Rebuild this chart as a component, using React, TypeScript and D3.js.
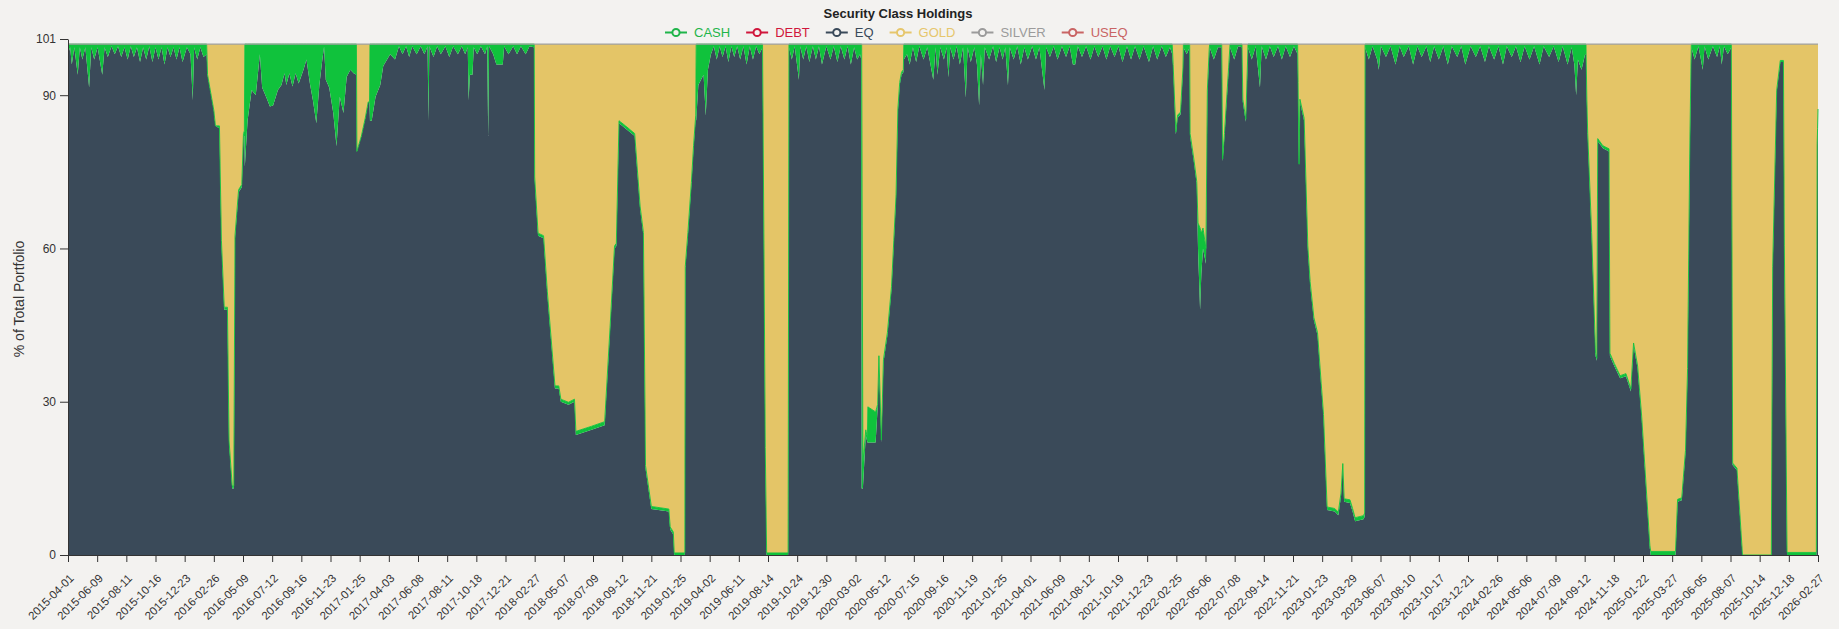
import React from 'react';
import * as d3 from 'd3';

// date, EQ, CASH, GOLD  (% of total portfolio)
type Row = [string, number, number, number];

const legendKeys = ['CASH', 'DEBT', 'EQ', 'GOLD', 'SILVER', 'USEQ'];
const legendColors: Record<string, string> = {
  CASH: '#1fb54a',
  DEBT: '#d0173c',
  EQ: '#3a4a5a',
  GOLD: '#e6c66c',
  SILVER: '#9b9b9b',
  USEQ: '#c96464',
};
const stackKeys = ['EQ', 'CASH', 'GOLD'];
const fillColors: Record<string, string> = { EQ: '#3a4a59', CASH: '#10c23c', GOLD: '#e4c567' };
const yTicks = [0, 30, 60, 90, 101];

const tickDates = [
  '2015-04-01', '2015-06-09', '2015-08-11', '2015-10-16', '2015-12-23', '2016-02-26', '2016-05-09',
  '2016-07-12', '2016-09-16', '2016-11-23', '2017-01-25', '2017-04-03', '2017-06-08', '2017-08-11',
  '2017-10-18', '2017-12-21', '2018-02-27', '2018-05-07', '2018-07-09', '2018-09-12', '2018-11-21',
  '2019-01-25', '2019-04-02', '2019-06-11', '2019-08-14', '2019-10-24', '2019-12-30', '2020-03-02',
  '2020-05-12', '2020-07-15', '2020-09-16', '2020-11-19', '2021-01-25', '2021-04-01', '2021-06-09',
  '2021-08-12', '2021-10-19', '2021-12-23', '2022-02-25', '2022-05-06', '2022-07-08', '2022-09-14',
  '2022-11-21', '2023-01-23', '2023-03-29', '2023-06-07', '2023-08-10', '2023-10-17', '2023-12-21',
  '2024-02-26', '2024-05-06', '2024-07-09', '2024-09-12', '2024-11-18', '2025-01-22', '2025-03-27',
  '2025-06-05', '2025-08-07', '2025-10-14', '2025-12-18', '2026-02-27',
];

const holdings2015: Row[] = [
  ['2015-04-01', 98, 2, 0], ['2015-04-06', 99.4, 0.6, 0], ['2015-04-10', 96, 4, 0], ['2015-04-16', 99.4, 0.6, 0],
  ['2015-04-24', 94, 6, 0], ['2015-04-29', 99.4, 0.6, 0], ['2015-05-05', 97, 3, 0], ['2015-05-12', 99.4, 0.6, 0],
  ['2015-05-21', 91.5, 8.5, 0], ['2015-05-26', 99.4, 0.6, 0], ['2015-06-02', 97, 3, 0], ['2015-06-10', 99.4, 0.6, 0],
  ['2015-06-20', 94, 6, 0], ['2015-06-25', 99.4, 0.6, 0], ['2015-07-02', 97.5, 2.5, 0], ['2015-07-10', 99.6, 0.4, 0],
  ['2015-07-17', 98, 2, 0], ['2015-07-24', 99.6, 0.4, 0], ['2015-07-31', 97.5, 2.5, 0], ['2015-08-07', 99.4, 0.6, 0],
  ['2015-08-14', 97, 3, 0], ['2015-08-21', 99.6, 0.4, 0], ['2015-08-28', 97.5, 2.5, 0], ['2015-09-04', 99.4, 0.6, 0],
  ['2015-09-11', 96.5, 3.5, 0], ['2015-09-18', 99.4, 0.6, 0], ['2015-09-25', 97, 3, 0], ['2015-10-02', 99.6, 0.4, 0],
  ['2015-10-09', 96.5, 3.5, 0], ['2015-10-16', 99.4, 0.6, 0], ['2015-10-23', 97, 3, 0], ['2015-10-30', 99.4, 0.6, 0],
  ['2015-11-06', 96, 4, 0], ['2015-11-13', 99.4, 0.6, 0], ['2015-11-20', 97.5, 2.5, 0], ['2015-11-27', 99.4, 0.6, 0],
  ['2015-12-04', 97, 3, 0], ['2015-12-11', 99.4, 0.6, 0], ['2015-12-18', 96.5, 3.5, 0], ['2015-12-28', 99.4, 0.6, 0],
  ['2016-01-05', 98, 2, 0], ['2016-01-10', 89, 11, 0], ['2016-01-13', 99.4, 0.6, 0], ['2016-01-20', 97, 3, 0],
  ['2016-01-27', 99.4, 0.6, 0], ['2016-02-03', 97.5, 2.5, 0], ['2016-02-10', 98, 2, 0],
];

const holdings2016: Row[] = [
  ['2016-02-12', 94, 0, 6], ['2016-02-26', 87, 0, 13], ['2016-03-01', 84, 0, 16], ['2016-03-11', 83.5, 0.5, 16],
  ['2016-03-16', 61, 0.5, 38.5], ['2016-03-23', 48, 0.5, 51.5], ['2016-03-31', 48, 0.5, 51.5],
  ['2016-04-04', 22, 0.5, 77.5], ['2016-04-12', 13, 0.5, 86.5], ['2016-04-16', 13, 0.5, 86.5],
  ['2016-04-19', 62, 0.5, 37.5], ['2016-04-28', 71, 0.5, 28.5], ['2016-05-06', 72, 0.5, 27.5],
  ['2016-05-10', 82, 0.5, 17.5], ['2016-05-12', 82, 1, 17], ['2016-05-13', 76, 24, 0],
  ['2016-05-19', 85, 15, 0], ['2016-05-28', 91, 9, 0], ['2016-06-06', 90, 10, 0], ['2016-06-15', 98, 2, 0],
  ['2016-06-20', 91.5, 8.5, 0], ['2016-06-30', 89.4, 10.6, 0], ['2016-07-07', 87.8, 12.2, 0],
  ['2016-07-14', 88, 12, 0], ['2016-07-25', 91, 9, 0], ['2016-08-02', 92, 8, 0], ['2016-08-09', 94.3, 5.7, 0],
  ['2016-08-13', 92, 8, 0], ['2016-08-20', 94.3, 5.7, 0], ['2016-08-27', 91.7, 8.3, 0], ['2016-09-03', 94.3, 5.7, 0],
  ['2016-09-10', 92.3, 7.7, 0], ['2016-09-21', 95, 5, 0], ['2016-09-28', 97, 3, 0], ['2016-10-06', 92.3, 7.7, 0],
  ['2016-10-13', 89, 11, 0], ['2016-10-21', 84.5, 15.5, 0], ['2016-10-28', 92, 8, 0], ['2016-11-04', 97, 3, 0],
  ['2016-11-08', 99.5, 0.5, 0], ['2016-11-12', 93, 7, 0], ['2016-11-20', 91.5, 8.5, 0], ['2016-11-29', 86.5, 13.5, 0],
  ['2016-12-06', 80, 20, 0], ['2016-12-13', 89.7, 10.3, 0], ['2016-12-21', 86.5, 13.5, 0], ['2016-12-28', 93.6, 6.4, 0],
  ['2017-01-05', 95, 5, 0], ['2017-01-12', 94.3, 5.7, 0], ['2017-01-18', 94, 6, 0],
  ['2017-01-19', 79, 0, 21], ['2017-01-29', 82, 0, 18], ['2017-02-07', 85.5, 0, 14.5], ['2017-02-14', 88.7, 0, 11.3],
  ['2017-02-17', 88.5, 0, 11.5], ['2017-02-18', 85, 15, 0], ['2017-02-22', 85, 15, 0], ['2017-03-03', 89.7, 10.3, 0],
  ['2017-03-14', 92, 8, 0], ['2017-03-21', 95.7, 4.3, 0], ['2017-04-06', 98, 2, 0],
];

const holdings2017: Row[] = [
  ['2017-04-17', 97, 3, 0], ['2017-04-26', 99.6, 0.4, 0], ['2017-05-04', 98, 2, 0], ['2017-05-12', 99.6, 0.4, 0],
  ['2017-05-19', 97.5, 2.5, 0], ['2017-05-26', 99.6, 0.4, 0], ['2017-06-05', 98, 2, 0], ['2017-06-14', 99.6, 0.4, 0],
  ['2017-06-22', 98, 2, 0], ['2017-06-29', 99.6, 0.4, 0], ['2017-07-01', 85, 15, 0], ['2017-07-03', 99.6, 0.4, 0],
  ['2017-07-12', 97.5, 2.5, 0], ['2017-07-20', 99.6, 0.4, 0], ['2017-07-28', 98, 2, 0], ['2017-08-07', 99.6, 0.4, 0],
  ['2017-08-16', 97.5, 2.5, 0], ['2017-08-25', 99.6, 0.4, 0], ['2017-09-05', 98, 2, 0], ['2017-09-14', 99.6, 0.4, 0],
  ['2017-09-22', 98, 2, 0], ['2017-09-28', 99.4, 0.6, 0], ['2017-09-30', 89, 11, 0], ['2017-10-03', 94, 6, 0],
  ['2017-10-09', 94, 6, 0], ['2017-10-12', 99.4, 0.6, 0], ['2017-10-20', 98, 2, 0], ['2017-10-28', 99.6, 0.4, 0],
  ['2017-11-06', 98, 2, 0], ['2017-11-11', 99.6, 0.4, 0], ['2017-11-13', 82, 18, 0], ['2017-11-15', 99.6, 0.4, 0],
  ['2017-11-24', 98, 2, 0], ['2017-12-01', 96, 4, 0], ['2017-12-15', 96, 4, 0], ['2017-12-18', 99.6, 0.4, 0],
  ['2017-12-28', 98, 2, 0], ['2018-01-08', 99.6, 0.4, 0], ['2018-01-17', 98, 2, 0], ['2018-01-26', 99.6, 0.4, 0],
  ['2018-02-06', 98, 2, 0], ['2018-02-15', 99.6, 0.4, 0], ['2018-02-25', 99.4, 0.6, 0],
];

const holdings2018: Row[] = [
  ['2018-02-26', 99.4, 0.6, 0], ['2018-02-27', 73.5, 0.5, 26], ['2018-03-07', 62.5, 0.5, 37], ['2018-03-20', 62, 0.5, 37.5],
  ['2018-03-29', 51, 0.5, 48.5], ['2018-04-16', 32.6, 0.5, 66.9], ['2018-04-25', 32.6, 0.5, 66.9],
  ['2018-04-30', 30, 0.5, 69.5], ['2018-05-17', 29.4, 0.5, 70.1], ['2018-05-30', 30, 0.5, 69.5],
  ['2018-06-02', 23.5, 0.7, 75.8], ['2018-07-06', 24.5, 0.7, 74.8], ['2018-08-04', 25.4, 0.7, 73.9],
  ['2018-08-16', 44, 0.5, 55.5], ['2018-08-26', 60, 0.5, 39.5], ['2018-08-30', 60.5, 0.5, 39],
  ['2018-09-05', 84.5, 0.5, 15], ['2018-09-20', 83.5, 0.5, 16], ['2018-10-12', 82, 0.5, 17.5],
  ['2018-10-25', 67.8, 0.5, 31.7], ['2018-11-02', 62.6, 0.5, 36.9], ['2018-11-07', 17, 0.5, 82.5],
  ['2018-11-21', 9, 0.5, 90.5], ['2018-12-30', 8.5, 0.5, 91], ['2019-01-02', 5, 0.5, 94.5],
  ['2019-01-09', 4, 0.5, 95.5], ['2019-01-11', 0, 0.4, 99.6], ['2019-02-04', 0, 0.4, 99.6],
  ['2019-02-05', 56, 0.5, 43.5], ['2019-02-11', 62.6, 0.5, 36.9], ['2019-02-19', 72.4, 0.5, 27.1],
  ['2019-02-24', 79.6, 0.5, 19.9], ['2019-03-01', 85.6, 0.5, 13.9], ['2019-03-02', 85, 15, 0],
  ['2019-03-07', 92, 8, 0], ['2019-03-19', 94, 6, 0], ['2019-03-24', 86, 14, 0], ['2019-03-29', 95, 5, 0],
  ['2019-04-05', 98, 2, 0],
];

const holdings2019: Row[] = [
  ['2019-04-12', 99.6, 0.4, 0], ['2019-04-19', 97, 3, 0], ['2019-04-26', 99.6, 0.4, 0], ['2019-05-03', 97.5, 2.5, 0],
  ['2019-05-10', 99.6, 0.4, 0], ['2019-05-17', 96.5, 3.5, 0], ['2019-05-24', 99.6, 0.4, 0], ['2019-05-31', 97.5, 2.5, 0],
  ['2019-06-07', 99.6, 0.4, 0], ['2019-06-14', 97, 3, 0], ['2019-06-21', 99.6, 0.4, 0], ['2019-06-28', 96, 4, 0],
  ['2019-07-05', 99.6, 0.4, 0], ['2019-07-12', 97, 3, 0], ['2019-07-19', 99.6, 0.4, 0], ['2019-07-26', 98, 2, 0],
  ['2019-08-02', 99.4, 0.6, 0], ['2019-08-05', 60, 1.5, 38.5], ['2019-08-08', 20, 1, 79], ['2019-08-11', 0, 0.4, 99.6],
  ['2019-10-02', 0, 0.4, 99.6], ['2019-10-04', 99.4, 0.6, 0], ['2019-10-11', 97, 3, 0], ['2019-10-18', 99.6, 0.4, 0],
  ['2019-10-28', 93, 7, 0], ['2019-10-31', 99.6, 0.4, 0], ['2019-11-07', 97, 3, 0], ['2019-11-14', 99.6, 0.4, 0],
  ['2019-11-21', 96.5, 3.5, 0], ['2019-11-29', 99.6, 0.4, 0], ['2019-12-06', 97, 3, 0], ['2019-12-13', 99.6, 0.4, 0],
  ['2019-12-20', 96, 4, 0], ['2019-12-30', 99.6, 0.4, 0], ['2020-01-08', 97, 3, 0], ['2020-01-15', 99.6, 0.4, 0],
  ['2020-01-23', 96.5, 3.5, 0], ['2020-01-30', 99.6, 0.4, 0], ['2020-02-07', 97, 3, 0], ['2020-02-14', 99.6, 0.4, 0],
  ['2020-02-21', 96, 4, 0], ['2020-02-28', 99.4, 0.6, 0], ['2020-03-06', 97, 3, 0], ['2020-03-13', 98, 2, 0],
];

const holdings2020: Row[] = [
  ['2020-03-16', 97, 3, 0], ['2020-03-17', 13, 87, 0], ['2020-03-20', 13, 5, 82], ['2020-03-27', 23.5, 1, 75.5],
  ['2020-03-31', 22, 1, 77], ['2020-04-01', 22, 7, 71], ['2020-04-20', 22, 6, 72], ['2020-04-25', 29, 0.5, 70.5],
  ['2020-04-28', 38.5, 0.5, 61], ['2020-05-04', 22, 0.5, 77.5], ['2020-05-09', 37.7, 0.5, 61.8],
  ['2020-05-18', 43, 0.5, 56.5], ['2020-05-27', 52, 0.5, 47.5], ['2020-06-01', 61, 0.5, 38.5],
  ['2020-06-06', 70, 0.5, 29.5], ['2020-06-10', 86.8, 0.5, 12.7], ['2020-06-14', 92, 0.5, 7.5],
  ['2020-06-18', 94, 0.5, 5.5], ['2020-06-22', 94.5, 0.5, 5], ['2020-06-23', 97, 3, 0],
  ['2020-06-30', 98, 2, 0], ['2020-07-06', 96, 4, 0], ['2020-07-13', 99.4, 0.6, 0], ['2020-07-20', 96.5, 3.5, 0],
  ['2020-07-27', 99.6, 0.4, 0], ['2020-08-05', 97, 3, 0], ['2020-08-13', 99.4, 0.6, 0], ['2020-08-20', 96, 4, 0],
  ['2020-08-26', 93, 7, 0], ['2020-08-31', 99.4, 0.6, 0], ['2020-09-04', 94, 6, 0], ['2020-09-10', 99.4, 0.6, 0],
  ['2020-09-18', 97, 3, 0], ['2020-09-24', 99.4, 0.6, 0], ['2020-09-28', 93.5, 6.5, 0], ['2020-10-02', 99.4, 0.6, 0],
  ['2020-10-09', 97, 3, 0], ['2020-10-16', 99.6, 0.4, 0], ['2020-10-23', 96, 4, 0], ['2020-10-30', 99.4, 0.6, 0],
  ['2020-11-05', 89.5, 10.5, 0], ['2020-11-09', 99.4, 0.6, 0], ['2020-11-16', 96.5, 3.5, 0], ['2020-11-24', 99.4, 0.6, 0],
  ['2020-11-30', 96, 4, 0], ['2020-12-05', 88, 12, 0], ['2020-12-09', 98, 2, 0], ['2020-12-14', 92, 8, 0],
  ['2020-12-18', 99.4, 0.6, 0], ['2020-12-28', 97, 3, 0],
];

const holdings2021: Row[] = [
  ['2021-01-06', 99.6, 0.4, 0], ['2021-01-13', 96.5, 3.5, 0], ['2021-01-21', 99.4, 0.6, 0], ['2021-01-28', 97, 3, 0],
  ['2021-02-03', 99.4, 0.6, 0], ['2021-02-09', 92, 8, 0], ['2021-02-13', 99.4, 0.6, 0], ['2021-02-22', 97, 3, 0],
  ['2021-03-02', 99.6, 0.4, 0], ['2021-03-10', 96, 4, 0], ['2021-03-18', 99.4, 0.6, 0], ['2021-03-26', 97, 3, 0],
  ['2021-04-05', 99.6, 0.4, 0], ['2021-04-14', 97, 3, 0], ['2021-04-22', 99.4, 0.6, 0], ['2021-05-04', 91, 9, 0],
  ['2021-05-08', 99.4, 0.6, 0], ['2021-05-17', 97.5, 2.5, 0], ['2021-05-26', 99.6, 0.4, 0], ['2021-06-04', 97, 3, 0],
  ['2021-06-14', 99.6, 0.4, 0], ['2021-06-23', 97.5, 2.5, 0], ['2021-07-01', 99.6, 0.4, 0], ['2021-07-08', 96, 4, 0],
  ['2021-07-13', 96, 4, 0], ['2021-07-19', 99.6, 0.4, 0], ['2021-07-28', 97.5, 2.5, 0], ['2021-08-06', 99.6, 0.4, 0],
  ['2021-08-16', 97, 3, 0], ['2021-08-25', 99.6, 0.4, 0], ['2021-09-03', 97.5, 2.5, 0], ['2021-09-13', 99.6, 0.4, 0],
  ['2021-09-22', 97, 3, 0], ['2021-10-01', 99.6, 0.4, 0], ['2021-10-11', 97.5, 2.5, 0], ['2021-10-20', 99.6, 0.4, 0],
  ['2021-10-29', 96.5, 3.5, 0], ['2021-11-08', 99.6, 0.4, 0], ['2021-11-17', 97, 3, 0], ['2021-11-26', 99.6, 0.4, 0],
  ['2021-12-06', 97, 3, 0], ['2021-12-15', 99.6, 0.4, 0], ['2021-12-27', 96.5, 3.5, 0], ['2022-01-05', 99.6, 0.4, 0],
  ['2022-01-14', 97, 3, 0], ['2022-01-24', 99.6, 0.4, 0], ['2022-02-02', 97.5, 2.5, 0], ['2022-02-11', 99.4, 0.6, 0],
  ['2022-02-16', 98, 2, 0],
];

const holdings2022: Row[] = [
  ['2022-02-18', 95.5, 0.5, 4], ['2022-02-24', 82.3, 0.5, 17.2], ['2022-02-28', 85.6, 0.5, 13.9],
  ['2022-03-07', 86.2, 0.5, 13.3], ['2022-03-13', 95, 0.5, 4.5], ['2022-03-14', 99.4, 0.6, 0], ['2022-03-22', 98, 2, 0],
  ['2022-03-29', 99.4, 0.6, 0], ['2022-03-30', 82, 0.5, 17.5], ['2022-04-08', 77, 0.5, 22.5], ['2022-04-15', 72.6, 0.5, 26.9],
  ['2022-04-18', 60, 5, 35], ['2022-04-23', 48, 16, 36], ['2022-04-26', 55, 8, 37], ['2022-04-30', 60, 4, 36],
  ['2022-05-07', 57, 3, 40], ['2022-05-10', 90, 1, 9], ['2022-05-14', 98, 1, 1], ['2022-05-15', 99.4, 0.6, 0],
  ['2022-05-24', 97, 3, 0], ['2022-06-02', 99.4, 0.6, 0], ['2022-06-10', 99.4, 0.6, 0], ['2022-06-12', 77, 0.5, 22.5],
  ['2022-06-16', 82, 0.5, 17.5], ['2022-06-25', 95, 0.5, 4.5], ['2022-06-28', 99.4, 0.6, 0], ['2022-07-07', 97, 3, 0],
  ['2022-07-16', 99.6, 0.4, 0], ['2022-07-25', 99.4, 0.6, 0], ['2022-07-27', 88.7, 0.5, 10.8], ['2022-08-03', 84.8, 0.5, 14.7],
  ['2022-08-07', 96, 0.5, 3.5], ['2022-08-08', 99.4, 0.6, 0], ['2022-08-17', 97, 3, 0], ['2022-08-26', 99.6, 0.4, 0],
  ['2022-09-05', 91.5, 8.5, 0], ['2022-09-09', 99.6, 0.4, 0], ['2022-09-19', 97, 3, 0], ['2022-09-28', 99.6, 0.4, 0],
  ['2022-10-07', 97.5, 2.5, 0], ['2022-10-17', 99.6, 0.4, 0], ['2022-10-26', 97, 3, 0], ['2022-11-04', 99.6, 0.4, 0],
  ['2022-11-14', 97.5, 2.5, 0], ['2022-11-23', 99.6, 0.4, 0], ['2022-12-01', 98, 2, 0],
  ['2022-12-02', 92, 0.5, 7.5], ['2022-12-04', 76, 0.5, 23.5], ['2022-12-06', 88.7, 0.5, 10.8],
  ['2022-12-15', 85, 0.5, 14.5], ['2022-12-23', 60, 0.5, 39.5], ['2022-12-28', 53, 0.5, 46.5],
  ['2023-01-05', 46, 0.5, 53.5], ['2023-01-13', 43, 0.5, 56.5], ['2023-01-21', 33, 0.5, 66.5],
  ['2023-01-26', 27, 0.5, 72.5], ['2023-02-03', 8.8, 0.6, 90.6], ['2023-02-20', 8.5, 0.6, 90.9],
  ['2023-02-28', 7.8, 0.6, 91.6], ['2023-03-06', 11.5, 0.6, 87.9], ['2023-03-10', 17.4, 0.5, 82.1],
  ['2023-03-13', 10.4, 0.6, 89], ['2023-03-26', 10.2, 0.6, 89.2], ['2023-04-01', 8.5, 0.6, 90.9],
  ['2023-04-07', 6.6, 0.7, 92.7], ['2023-04-27', 7, 0.7, 92.3], ['2023-04-30', 7.5, 0.7, 91.8], ['2023-05-01', 99.4, 0.6, 0],
];

const holdings2023: Row[] = [
  ['2023-05-10', 97, 3, 0], ['2023-05-19', 99.6, 0.4, 0], ['2023-05-30', 97, 3, 0], ['2023-06-03', 95, 5, 0],
  ['2023-06-08', 99.6, 0.4, 0], ['2023-06-19', 97.5, 2.5, 0], ['2023-06-29', 99.6, 0.4, 0], ['2023-07-10', 96, 4, 0],
  ['2023-07-19', 99.6, 0.4, 0], ['2023-07-28', 97.5, 2.5, 0], ['2023-08-08', 99.6, 0.4, 0], ['2023-08-18', 96, 4, 0],
  ['2023-08-28', 99.6, 0.4, 0], ['2023-09-07', 97.5, 2.5, 0], ['2023-09-18', 99.6, 0.4, 0], ['2023-09-27', 96.5, 3.5, 0],
  ['2023-10-06', 99.6, 0.4, 0], ['2023-10-17', 97, 3, 0], ['2023-10-27', 99.6, 0.4, 0], ['2023-11-06', 96, 4, 0],
  ['2023-11-15', 99.6, 0.4, 0], ['2023-11-27', 97.5, 2.5, 0], ['2023-12-06', 99.6, 0.4, 0], ['2023-12-15', 96, 4, 0],
  ['2023-12-27', 99.6, 0.4, 0], ['2024-01-08', 97.5, 2.5, 0], ['2024-01-18', 99.6, 0.4, 0], ['2024-01-29', 96.5, 3.5, 0],
  ['2024-02-07', 99.6, 0.4, 0], ['2024-02-19', 97, 3, 0], ['2024-02-29', 99.6, 0.4, 0], ['2024-03-11', 96, 4, 0],
  ['2024-03-20', 99.6, 0.4, 0], ['2024-04-01', 97.5, 2.5, 0], ['2024-04-11', 99.6, 0.4, 0], ['2024-04-22', 96.5, 3.5, 0],
  ['2024-05-02', 99.6, 0.4, 0], ['2024-05-13', 97, 3, 0], ['2024-05-23', 99.6, 0.4, 0], ['2024-06-04', 96, 4, 0],
  ['2024-06-13', 99.6, 0.4, 0], ['2024-06-25', 97.5, 2.5, 0], ['2024-07-05', 99.6, 0.4, 0], ['2024-07-16', 96.5, 3.5, 0],
  ['2024-07-25', 99.6, 0.4, 0], ['2024-08-05', 96, 4, 0], ['2024-08-14', 99.4, 0.6, 0], ['2024-08-20', 96, 4, 0],
  ['2024-08-24', 90, 10, 0], ['2024-08-28', 97, 3, 0], ['2024-09-05', 95, 5, 0], ['2024-09-13', 98, 2, 0],
];

const holdings2024: Row[] = [
  ['2024-09-15', 98, 2, 0], ['2024-09-17', 88.7, 0.5, 10.8], ['2024-09-19', 82, 0.5, 17.5],
  ['2024-09-28', 62.6, 0.5, 36.9], ['2024-10-07', 39, 0.5, 60.5], ['2024-10-10', 38, 0.5, 61.5],
  ['2024-10-12', 81, 0.5, 18.5], ['2024-10-24', 79.6, 0.5, 19.9], ['2024-11-07', 79, 0.5, 20.5],
  ['2024-11-09', 39, 0.5, 60.5], ['2024-11-19', 37, 0.5, 62.5], ['2024-12-02', 34.6, 0.5, 64.9],
  ['2024-12-15', 35, 0.5, 64.5], ['2024-12-26', 32, 0.5, 67.5], ['2025-01-01', 41, 0.5, 58.5],
  ['2025-01-10', 36.5, 0.5, 63], ['2025-01-19', 26.7, 0.5, 72.8], ['2025-01-26', 17, 0.5, 82.5],
  ['2025-02-06', 1.3, 0.6, 98.1], ['2025-02-08', 0, 0.7, 99.3], ['2025-04-04', 0, 0.7, 99.3], ['2025-04-09', 10.4, 0.5, 89.1],
  ['2025-04-19', 10.7, 0.5, 88.8], ['2025-04-28', 20, 0.5, 79.5], ['2025-05-03', 36, 0.5, 63.5],
  ['2025-05-08', 77, 0.5, 22.5], ['2025-05-11', 95, 0.5, 4.5], ['2025-05-12', 99.4, 0.6, 0],
  ['2025-05-20', 97, 3, 0], ['2025-05-29', 99.6, 0.4, 0], ['2025-06-04', 97, 3, 0], ['2025-06-08', 95, 5, 0],
  ['2025-06-12', 99.6, 0.4, 0], ['2025-06-20', 97, 3, 0], ['2025-06-30', 99.6, 0.4, 0], ['2025-07-09', 97.5, 2.5, 0],
  ['2025-07-15', 99.6, 0.4, 0], ['2025-07-19', 96, 4, 0], ['2025-07-24', 99.6, 0.4, 0], ['2025-08-01', 98, 2, 0],
  ['2025-08-09', 99.4, 0.6, 0], ['2025-08-12', 17.6, 0.4, 82], ['2025-08-22', 16.6, 0.4, 83], ['2025-09-04', 0, 0, 100],
  ['2025-11-09', 0, 0, 100], ['2025-11-12', 56, 0.4, 43.6], ['2025-11-21', 90.7, 0.3, 9], ['2025-11-29', 96.5, 0.3, 3.2],
  ['2025-12-06', 96.5, 0.3, 3.2], ['2025-12-08', 60, 0.5, 39.5], ['2025-12-14', 0, 0.5, 99.5],
  ['2026-02-23', 0, 0.5, 99.5], ['2026-02-25', 80, 0.5, 19.5], ['2026-02-26', 83, 0.5, 16.5],
  ['2026-02-27', 86.8, 0.5, 12.7],
];

const holdings: Row[] = [
  ...holdings2015, ...holdings2016, ...holdings2017, ...holdings2018, ...holdings2019,
  ...holdings2020, ...holdings2021, ...holdings2022, ...holdings2023, ...holdings2024,
];

const W = 1839;
const H = 629;
const margin = { top: 39, right: 21, bottom: 74, left: 68 };
const FONT = '"Liberation Sans", Arial, Helvetica, sans-serif';
const BG = '#f3f2f0';

function drawChart(el: SVGSVGElement) {
  const svg = d3.select(el);
  svg.selectAll('*').remove();
  svg.append('rect').attr('width', W).attr('height', H).attr('fill', BG);

  const parse = d3.timeParse('%Y-%m-%d');
  const tickObjs = tickDates.map((d) => parse(d) as Date);
  const step = (W - margin.left - margin.right) / (tickDates.length - 1);
  // trading-day axis: tick dates are evenly spaced
  const x = d3
    .scaleTime()
    .domain(tickObjs)
    .range(tickObjs.map((_, i) => margin.left + i * step));
  const y = d3.scaleLinear([0, 101], [H - margin.bottom, margin.top]);

  const rows = holdings.map(([date, eq, cash, gold]) => ({
    date: parse(date) as Date,
    EQ: eq,
    CASH: cash,
    GOLD: gold,
  }));
  const layers = d3.stack<any>().keys(stackKeys)(rows);

  const area = d3
    .area<any>()
    .x((d) => x(d.data.date))
    .y0((d) => y(d[0]))
    .y1((d) => y(d[1]));

  const plot = svg.append('g');
  plot
    .selectAll('path.layer')
    .data(layers)
    .enter()
    .append('path')
    .attr('class', 'layer')
    .attr('d', area)
    .attr('fill', (l) => fillColors[l.key]);

  const edge = d3
    .line<any>()
    .x((d) => x(d.data.date))
    .y((d) => y(d[1]));
  // green edge where cash meets gold
  plot
    .append('path')
    .attr('d', edge(layers[1]))
    .attr('fill', 'none')
    .attr('stroke', fillColors.CASH)
    .attr('stroke-width', 0.9);
  // total line on top
  plot
    .append('path')
    .attr('d', edge(layers[2]))
    .attr('fill', 'none')
    .attr('stroke', '#a0a0a0')
    .attr('stroke-width', 1.2);

  // axes
  const xAxis = svg
    .append('g')
    .attr('transform', `translate(0,${H - margin.bottom})`)
    .call(
      d3
        .axisBottom(x)
        .tickValues(tickObjs)
        .tickSize(7)
        .tickSizeOuter(0)
        .tickFormat(d3.timeFormat('%Y-%m-%d') as any),
    );
  xAxis
    .selectAll('text')
    .attr('x', 0)
    .attr('y', 0)
    .attr('dy', 0)
    .attr('transform', 'translate(6,24) rotate(-45)')
    .style('text-anchor', 'end')
    .style('font-size', '11.5px')
    .style('font-family', FONT)
    .attr('fill', '#333');

  const yAxis = svg
    .append('g')
    .attr('transform', `translate(${margin.left},0)`)
    .call(d3.axisLeft(y).tickValues(yTicks).tickSize(8).tickSizeOuter(0).tickPadding(4));
  yAxis.selectAll('text').style('font-size', '12px').style('font-family', FONT).attr('fill', '#333');
  svg.selectAll('.domain').attr('stroke', '#333');
  svg.selectAll('.tick line').attr('stroke', '#333');

  svg
    .append('text')
    .attr('transform', `translate(24,${(margin.top + H - margin.bottom) / 2 + 2}) rotate(-90)`)
    .attr('text-anchor', 'middle')
    .style('font-family', FONT)
    .style('font-size', '14px')
    .attr('fill', '#333')
    .text('% of Total Portfolio');

  // title + legend
  svg
    .append('text')
    .attr('x', 898)
    .attr('y', 18)
    .attr('text-anchor', 'middle')
    .style('font-family', FONT)
    .style('font-size', '13px')
    .style('font-weight', 'bold')
    .attr('fill', '#222')
    .text('Security Class Holdings');

  const legend = svg.append('g').attr('transform', 'translate(665,32.5)');
  let cursor = 0;
  legendKeys.forEach((key) => {
    const g = legend.append('g').attr('transform', `translate(${cursor},0)`);
    g.append('line').attr('x1', 0).attr('x2', 22).attr('stroke', legendColors[key]).attr('stroke-width', 2);
    g.append('circle')
      .attr('cx', 11)
      .attr('r', 3.6)
      .attr('fill', BG)
      .attr('stroke', legendColors[key])
      .attr('stroke-width', 2);
    const t = g
      .append('text')
      .attr('x', 29)
      .attr('dy', '0.36em')
      .style('font-family', FONT)
      .style('font-size', '13px')
      .attr('fill', legendColors[key])
      .text(key);
    const w = (t.node() as SVGTextElement).getComputedTextLength();
    cursor += 29 + w + 16;
  });
}

export default function App() {
  const ref = React.useRef<SVGSVGElement>(null);
  React.useEffect(() => {
    if (ref.current) drawChart(ref.current);
  }, []);
  return (
    <div style={{ background: BG }}>
      <style>{`body{margin:0;background:${BG};}`}</style>
      <svg ref={ref} width={W} height={H} style={{ display: 'block' }} />
    </div>
  );
}
